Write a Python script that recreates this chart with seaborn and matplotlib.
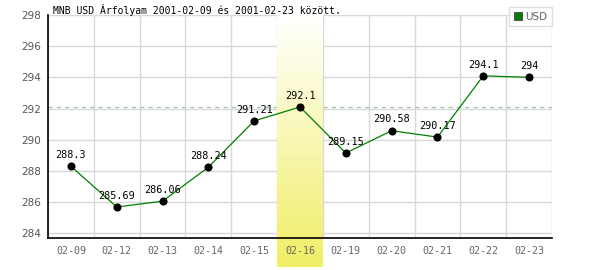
import numpy as np
import pandas as pd
import matplotlib
matplotlib.use("Agg")
import matplotlib.pyplot as plt
import matplotlib.transforms as mtransforms
from matplotlib.patches import Rectangle
from matplotlib.lines import Line2D
import seaborn as sns

# ---- data ----
dates = ["02-09", "02-12", "02-13", "02-14", "02-15", "02-16",
         "02-19", "02-20", "02-21", "02-22", "02-23"]
values = [288.3, 285.69, 286.06, 288.24, 291.21, 292.1,
          289.15, 290.58, 290.17, 294.1, 294]
value_labels = ["288.3", "285.69", "286.06", "288.24", "291.21", "292.1",
                "289.15", "290.58", "290.17", "294.1", "294"]
highlight_date = "02-16"
reference_level = 292.1
y_ticks = [284, 286, 288, 290, 292, 294, 296, 298]
title = "MNB USD Árfolyam 2001-02-09 és 2001-02-23 között."
series_name = "USD"

df = pd.DataFrame({"pos": np.arange(len(dates)), "date": dates, "value": values})

sns.set_theme(style="white")
plt.rcParams["font.family"] = ["DejaVu Sans"]

fig = plt.figure(figsize=(6, 2.7), dpi=100)
ax = fig.add_axes([48 / 600, 1 - 238 / 270, 504 / 600, 223 / 270])
ax.set_facecolor("white")
ax.set_axisbelow(False)

ax.set_xlim(-0.5, len(dates) - 0.5)
ax.set_ylim(283.7, 298)

# manual grid (so that the highlight band covers it)
grid_c = "#d8d8d8"
for yv in y_ticks:
    ax.axhline(yv, color=grid_c, lw=1, zorder=0.6)
for b in np.arange(len(dates) + 1) - 0.5:
    ax.axvline(b, color=grid_c, lw=1, zorder=0.6)

# dashed reference line
ax.axhline(reference_level, color="#a8c8a8", lw=1, ls=(0, (3, 3)), zorder=0.7)

# highlight gradient band (extends below the axes over the tick labels)
hi = dates.index(highlight_date)
trans = mtransforms.blended_transform_factory(ax.transData, ax.transAxes)
y0, y1 = -0.13, 1.0
n = 80
top_c = np.array([1.0, 1.0, 1.0])
bot_c = np.array([240, 238, 100]) / 255
for i in range(n):
    f = i / (n - 1)
    c = bot_c * (1 - f) + top_c * f
    ya = y0 + (y1 - y0) * i / n
    ax.add_patch(Rectangle((hi - 0.5, ya), 1.0, (y1 - y0) / n + 0.002,
                           transform=trans, facecolor=c, edgecolor="none",
                           clip_on=False, zorder=0.8))

# series
sns.lineplot(data=df, x="pos", y="value", ax=ax, color="#008000", lw=0.9,
             zorder=3, legend=False)
sns.scatterplot(data=df, x="pos", y="value", ax=ax, color="black", s=34,
                edgecolor="black", linewidth=0, zorder=4, legend=False)

for p, v, lab in zip(df["pos"], df["value"], value_labels):
    ax.annotate(lab, (p, v), xytext=(0, 4.5), textcoords="offset points",
                ha="center", va="bottom", fontsize=7.3, family="DejaVu Sans Mono",
                color="black", zorder=5)

# axes styling
ax.set_xticks(df["pos"])
ax.set_xticklabels(dates, family="DejaVu Sans Mono", fontsize=7.2, color="#666666")
ax.set_yticks(y_ticks)
ax.set_yticklabels([str(t) for t in y_ticks], fontsize=7.5, color="#555555")
ax.tick_params(axis="both", length=0)
ax.tick_params(axis="x", pad=6)
ax.tick_params(axis="y", pad=5)
ax.set_xlabel("")
ax.set_ylabel("")
for s in ["top", "right"]:
    ax.spines[s].set_visible(False)
for s in ["left", "bottom"]:
    ax.spines[s].set_color("black")
    ax.spines[s].set_linewidth(1.2)
    ax.spines[s].set_zorder(2.5)

# title
fig.text(53 / 600, 1 - 10 / 270, title, family="DejaVu Sans Mono", fontsize=7,
         color="black", ha="left", va="center")

# legend
handle = Line2D([], [], marker="s", ls="none", markersize=6,
                markerfacecolor="#008000", markeredgecolor="#555555", markeredgewidth=0.8)
leg = ax.legend([handle], [series_name], loc="upper right",
                bbox_to_anchor=(1.0, 1.036), borderaxespad=0, fancybox=False,
                frameon=True, fontsize=7.5, handlelength=0.8, handletextpad=0.3,
                borderpad=0.45, labelcolor="#666666")
leg.get_frame().set_edgecolor("#d8d8d8")
leg.get_frame().set_linewidth(1)
leg.set_zorder(6)

fig.savefig("out.png", dpi=100)
